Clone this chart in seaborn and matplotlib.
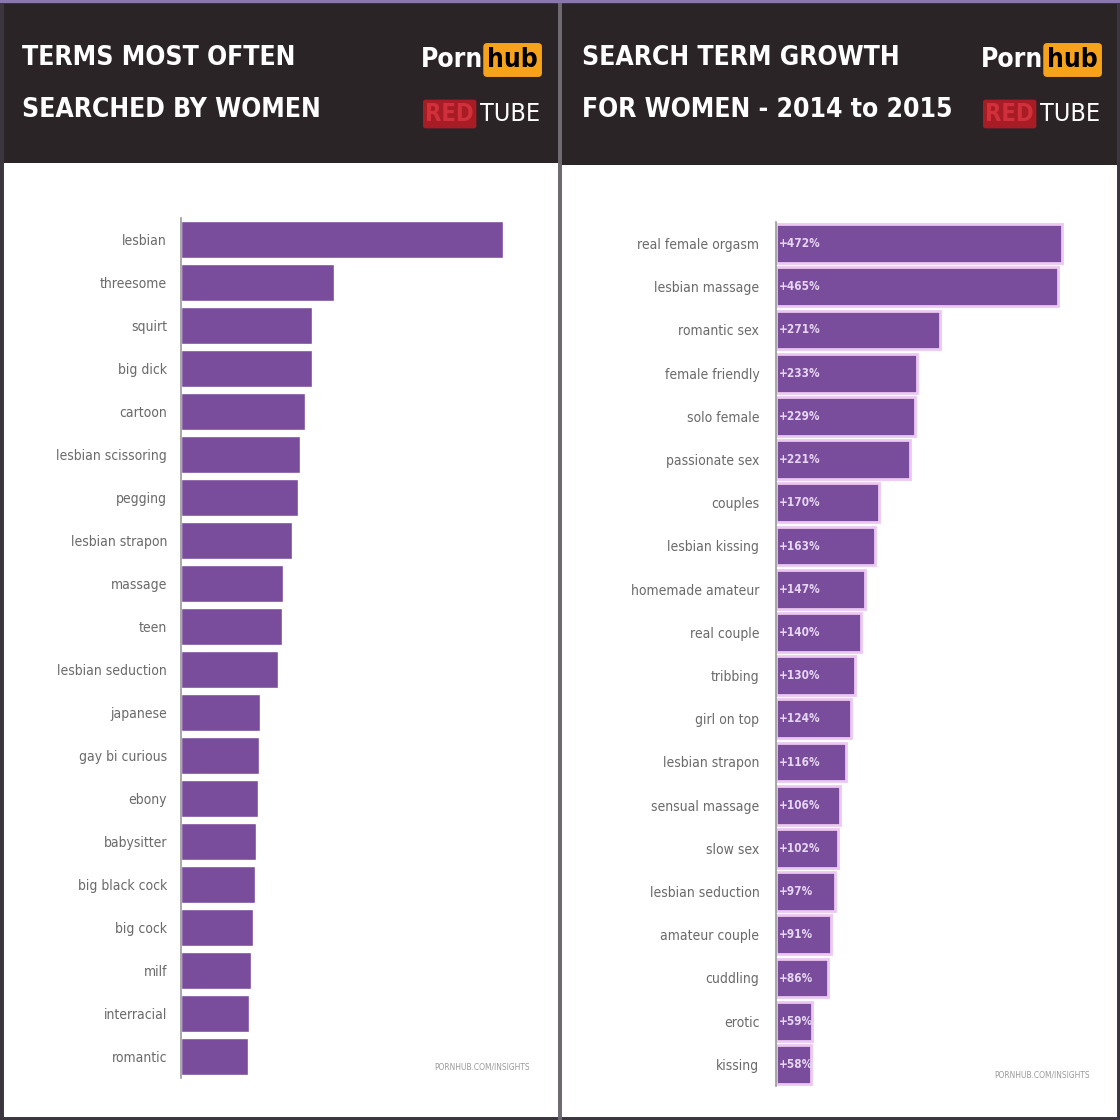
import matplotlib
matplotlib.use("Agg")
import matplotlib.pyplot as plt
from matplotlib.patches import Rectangle
import seaborn as sns
import pandas as pd

# ---------------- data ----------------
women_terms = ["lesbian", "threesome", "squirt", "big dick", "cartoon",
               "lesbian scissoring", "pegging", "lesbian strapon", "massage", "teen",
               "lesbian seduction", "japanese", "gay bi curious", "ebony", "babysitter",
               "big black cock", "big cock", "milf", "interracial", "romantic"]
women_values = [322, 153, 131, 131, 124, 119, 117, 111, 102, 101,
                97, 79, 78, 77, 75, 74, 72, 70, 68, 67]

growth_terms = ["real female orgasm", "lesbian massage", "romantic sex", "female friendly",
                "solo female", "passionate sex", "couples", "lesbian kissing",
                "homemade amateur", "real couple", "tribbing", "girl on top",
                "lesbian strapon", "sensual massage", "slow sex", "lesbian seduction",
                "amateur couple", "cuddling", "erotic", "kissing"]
growth_values = [472, 465, 271, 233, 229, 221, 170, 163, 147, 140,
                 130, 124, 116, 106, 102, 97, 91, 86, 59, 58]

titles = [["TERMS MOST OFTEN", "SEARCHED BY WOMEN"],
          ["SEARCH TERM GROWTH", "FOR WOMEN - 2014 to 2015"]]
source = "PORNHUB.COM/INSIGHTS"

# ---------------- style ----------------
sns.set_theme(style="white")
plt.rcParams["font.family"] = ["DejaVu Sans"]
plt.rcParams["font.stretch"] = "condensed"
FAM = ["DejaVu Sans"]

W = H = 1120
fig = plt.figure(figsize=(11.2, 11.2), dpi=100)
fig.patch.set_facecolor("white")

PURPLE = "#7a4c9c"
DARK = "#2b2426"

def fx(px):
    return px / W

def fy(py):
    return 1 - py / H

# panel headers
for x0, x1, hb in [(3, 558, 163), (562, 1117, 165)]:
    fig.patches.append(Rectangle((fx(x0), fy(hb)), fx(x1 - x0), fy(3) - fy(hb),
                                 transform=fig.transFigure, facecolor=DARK,
                                 edgecolor="none", zorder=0))
# outer borders
fig.patches.append(Rectangle((0, 0), 1, 1, transform=fig.transFigure, fill=False,
                             edgecolor="#3b3540", linewidth=5, zorder=5))
fig.patches.append(Rectangle((0, fy(3)), 1, fy(0) - fy(3), transform=fig.transFigure,
                             facecolor="#8a78ad", edgecolor="none", zorder=6))
fig.patches.append(Rectangle((fx(558), 0), fx(4), 1, transform=fig.transFigure,
                             facecolor="#6f6a72", edgecolor="none", zorder=5))

def header(x_title, x_right, lines):
    for yy, txt in zip([58, 110], lines):
        fig.text(fx(x_title), fy(yy), txt, color="white", fontsize=19,
                 fontweight="bold", va="center", ha="left", family=FAM,
                 fontstretch="condensed")
    # Pornhub logo
    fig.text(fx(x_right - 2), fy(60), "hub", color="black", fontsize=19, fontweight="bold",
             va="center", ha="right", family=FAM, fontstretch="condensed",
             bbox=dict(boxstyle="round,pad=0.15", facecolor="#f7a21b", edgecolor="none"))
    fig.text(fx(x_right - 57), fy(60), "Porn", color="white", fontsize=19, fontweight="bold",
             va="center", ha="right", family=FAM, fontstretch="condensed")
    # RedTube logo
    fig.text(fx(x_right), fy(114), "TUBE", color="white", fontsize=18,
             va="center", ha="right", family=FAM, fontstretch="condensed")
    fig.text(fx(x_right - 66), fy(114), "RED", color="#d0303a", fontsize=17, fontweight="bold",
             va="center", ha="right", family=FAM, fontstretch="condensed",
             bbox=dict(boxstyle="round,pad=0.1", facecolor="#a81c26", edgecolor="none"))

header(22, 540, titles[0])
header(582, 1100, titles[1])

# ---------------- left chart ----------------
df1 = pd.DataFrame({"term": women_terms, "value": women_values})
ax1 = fig.add_axes([fx(181), fy(1078), fx(530 - 181), fy(218) - fy(1078)])
sns.barplot(data=df1, y="term", x="value", orient="h", color=PURPLE, saturation=1,
            width=0.86, ax=ax1)
ax1.set_xlim(0, 349)
ax1.set_xlabel("")
ax1.set_ylabel("")
ax1.set_xticks([])
ax1.tick_params(axis="y", length=0, pad=10, labelsize=10, labelcolor="#6a6a6a")
for s in ["top", "right", "bottom"]:
    ax1.spines[s].set_visible(False)
ax1.spines["left"].set_color("#9a9a9a")
ax1.spines["left"].set_linewidth(1.2)
ax1.set_facecolor("none")

# ---------------- right chart ----------------
df2 = pd.DataFrame({"term": growth_terms, "value": growth_values})
ax2 = fig.add_axes([fx(776), fy(1086), fx(1090 - 776), fy(222) - fy(1086)])
sns.barplot(data=df2, y="term", x="value", orient="h", color=PURPLE, saturation=1,
            width=0.9, edgecolor="#ecc8f2", linewidth=2, ax=ax2)
ax2.set_xlim(0, 314 * 1.65)
ax2.set_xlabel("")
ax2.set_ylabel("")
ax2.set_xticks([])
ax2.tick_params(axis="y", length=0, pad=12, labelsize=10, labelcolor="#6a6a6a")
for s in ["top", "right", "bottom"]:
    ax2.spines[s].set_visible(False)
ax2.spines["left"].set_color("#9a9a9a")
ax2.spines["left"].set_linewidth(1.2)
ax2.set_facecolor("none")
for i, v in enumerate(growth_values):
    ax2.text(5, i, f"+{v}%", color="#e6d6f2", fontsize=8.5, fontweight="bold",
             va="center", ha="left", fontstretch="condensed")

# sources
fig.text(fx(530), fy(1067), source, color="#9a9a9a", fontsize=6, ha="right", va="center")
fig.text(fx(1090), fy(1075), source, color="#9a9a9a", fontsize=6, ha="right", va="center")

fig.savefig("out.png", dpi=100)
